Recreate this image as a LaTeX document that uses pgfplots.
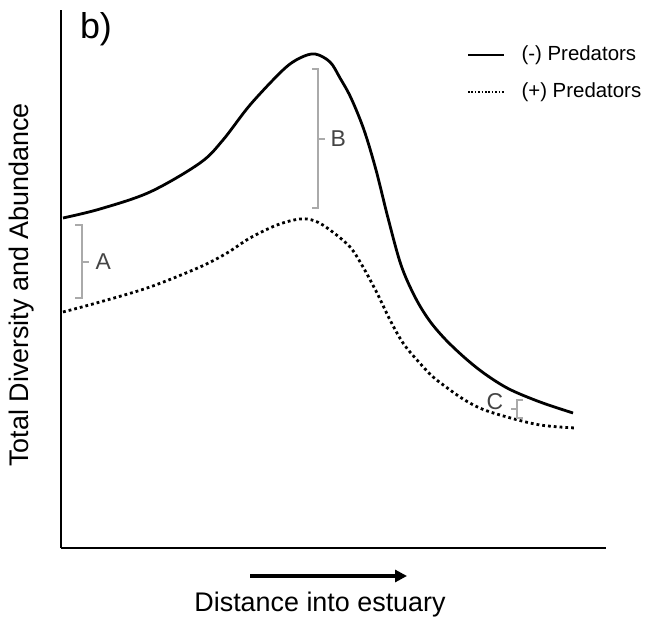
\documentclass[border=0pt]{standalone}
\usepackage{pgfplots}
\pgfplotsset{compat=1.18}
\usepackage{fontspec}
\setmainfont{Liberation Sans}
\usetikzlibrary{arrows.meta}
\definecolor{brk}{HTML}{AAAAAA}
\definecolor{lab}{HTML}{444444}
\begin{document}
\begin{tikzpicture}[x=1bp,y=1bp]
\useasboundingbox (0,0) rectangle (649,622);
\begin{axis}[
  at={(61bp,74bp)}, anchor=south west,
  scale only axis, width=545bp, height=538bp,
  xmin=0, xmax=545, ymin=0, ymax=538,
  axis x line*=bottom, axis y line*=left,
  axis line style={-, line width=2bp, black},
  xtick=\empty, ytick=\empty,
  clip=false,
]
\addplot[black, line width=2.8bp, smooth, tension=0.55] coordinates {
(2,330) (39,339) (89,356) (139,385) (162,408) (189,443) (222,478) (239,490)
(254,494) (269,486) (279,470) (290,450) (303,418) (315,378) (327,330)
(340,283) (354,251) (368,228) (384,209) (404,190) (424,174) (448,159)
(479,146) (512,135)
};
\addplot[black, line width=2.8bp, dash pattern=on 2.8bp off 3bp, smooth, tension=0.55] coordinates {
(2,236) (39,246) (89,261) (139,281) (166,295) (189,310) (216,323) (239,329)
(254,327) (269,318) (289,301) (302,281) (316,255) (329,228) (342,205)
(356,188) (371,172) (385,161) (402,149) (421,139) (446,131) (479,123)
(514,120)
};
% brackets
\draw[brk, line width=1.8bp] (14,323) -- (21,323) -- (21,250) -- (14,250);
\draw[brk, line width=1.8bp] (21,286) -- (28,286);
\node[lab, font=\fontsize{23}{27}\selectfont, anchor=west] at (31,286) {A};
\draw[brk, line width=1.8bp] (251,479) -- (257,479) -- (257,340) -- (251,340);
\draw[brk, line width=1.8bp] (257,409) -- (264,409);
\node[lab, font=\fontsize{23}{27}\selectfont, anchor=west] at (266,409) {B};
\draw[brk, line width=1.5bp] (462,148) -- (456,148) -- (456,130) -- (462,130);
\draw[brk, line width=1.5bp] (456,139) -- (450,139);
\node[lab, font=\fontsize{23}{27}\selectfont] at (434,146) {C};
% legend
\draw[black, line width=2.2bp] (407,493) -- (443,493);
\node[anchor=west, font=\fontsize{20.5}{24}\selectfont] at (457,493) {(-) Predators};
\draw[black, line width=1.6bp, dash pattern=on 1.6bp off 1.8bp] (407,456) -- (443,456);
\node[anchor=west, font=\fontsize{20.5}{24}\selectfont] at (457,456) {(+) Predators};
% title
\node[font=\fontsize{36}{42}\selectfont] at (35,519) {b)};
% x label and arrow
\draw[black, line width=4bp, -{Triangle[length=12bp,width=12bp]}] (189,-28) -- (346,-28);
\node[font=\fontsize{27}{32}\selectfont] at (259,-57) {Distance into estuary};
\node[font=\fontsize{27}{32}\selectfont, rotate=90] at (-39,263) {Total Diversity and Abundance};
\end{axis}
\end{tikzpicture}
\end{document}
